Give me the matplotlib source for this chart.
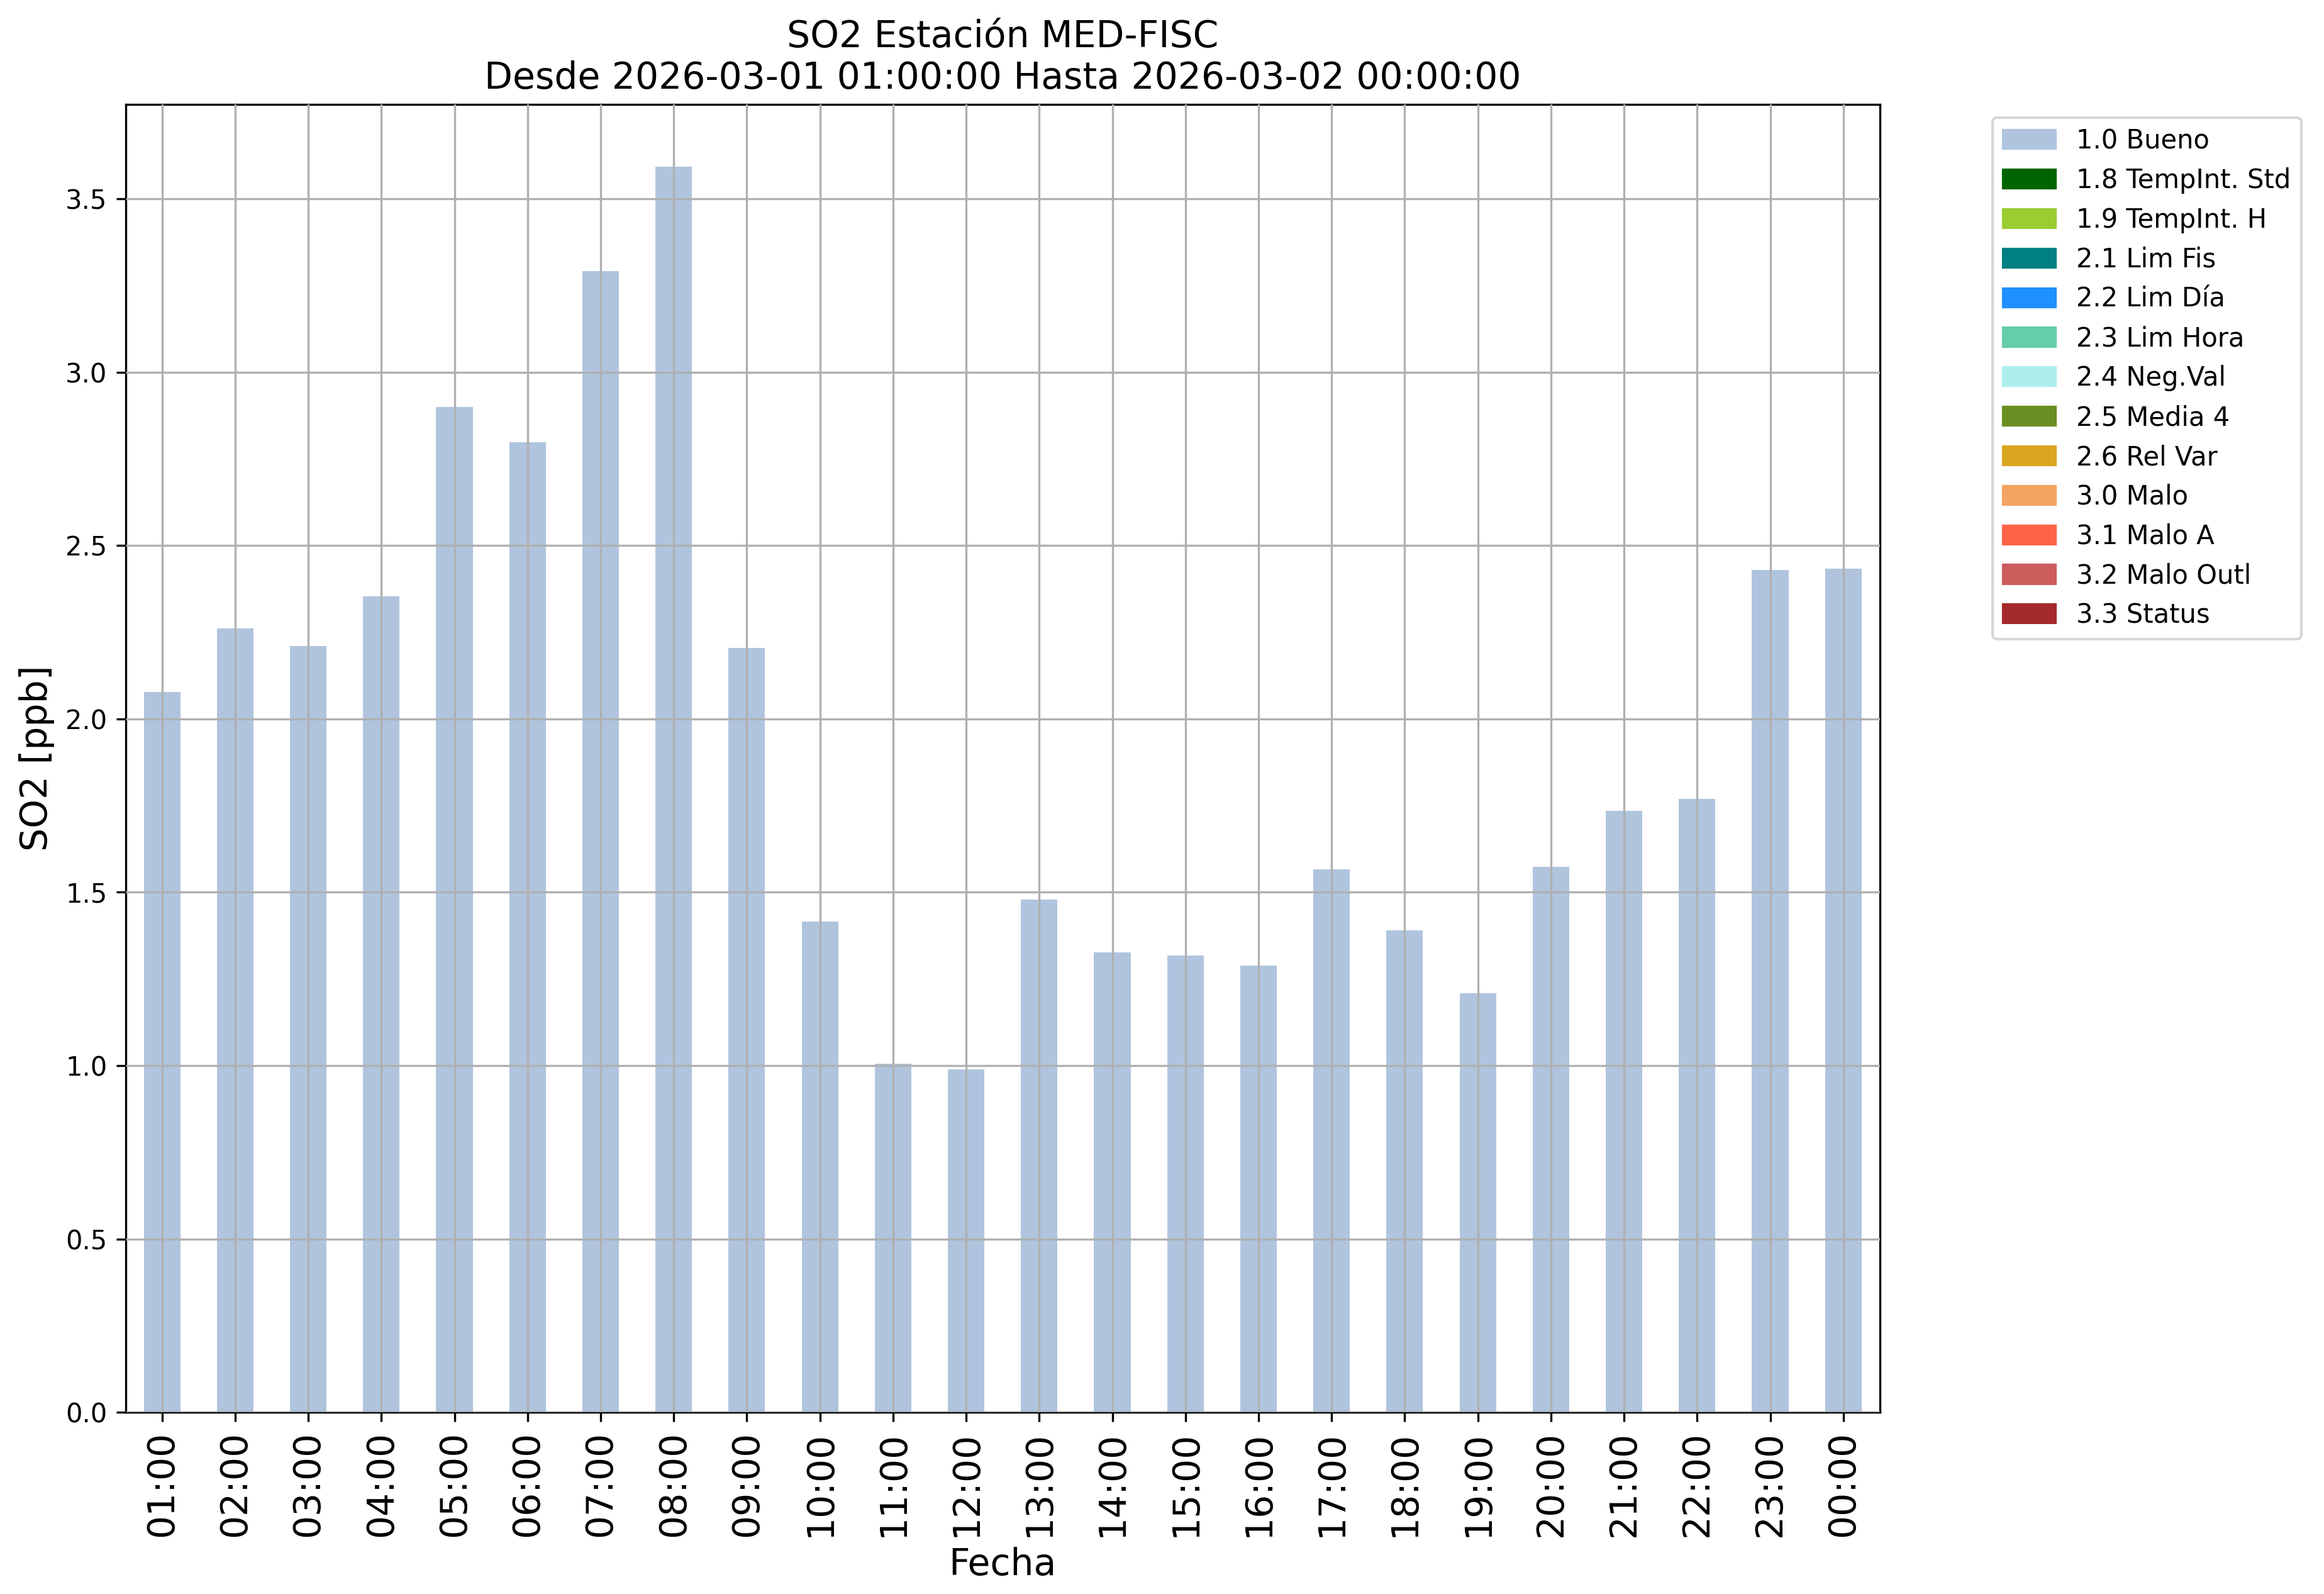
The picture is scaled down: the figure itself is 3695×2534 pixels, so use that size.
import matplotlib
matplotlib.use('Agg')
import matplotlib.pyplot as plt
import matplotlib.patches as mpatches

# hourly SO2 values (all flagged 1.0 Bueno)
horas = ['01:00', '02:00', '03:00', '04:00', '05:00', '06:00', '07:00', '08:00',
         '09:00', '10:00', '11:00', '12:00', '13:00', '14:00', '15:00', '16:00',
         '17:00', '18:00', '19:00', '20:00', '21:00', '22:00', '23:00', '00:00']
so2 = [2.078, 2.261, 2.210, 2.353, 2.900, 2.798, 3.291, 3.593,
       2.205, 1.416, 1.006, 0.989, 1.479, 1.326, 1.318, 1.288,
       1.566, 1.391, 1.208, 1.573, 1.734, 1.770, 2.430, 2.434]

# quality flag legend
flags = ['1.0 Bueno', '1.8 TempInt. Std', '1.9 TempInt. H', '2.1 Lim Fis',
         '2.2 Lim Día', '2.3 Lim Hora', '2.4 Neg.Val', '2.5 Media 4',
         '2.6 Rel Var', '3.0 Malo', '3.1 Malo A', '3.2 Malo Outl', '3.3 Status']
flag_colors = ['lightsteelblue', 'darkgreen', 'yellowgreen', 'teal',
               'dodgerblue', 'mediumaquamarine', 'paleturquoise', 'olivedrab',
               'goldenrod', 'sandybrown', 'tomato', 'indianred', 'brown']

fig, ax = plt.subplots(figsize=(3695 / 300, 2534 / 300), dpi=300)
fig.subplots_adjust(left=0.054, right=0.8089, bottom=0.114, top=0.9345)

x = range(len(horas))
ax.bar(x, so2, width=0.5, color=flag_colors[0])
ax.set_xlim(-0.5, len(horas) - 0.5)
ax.set_xticks(list(x))
ax.set_xticklabels(horas, rotation=90, fontsize=14)
ax.tick_params(axis='y', labelsize=10)
ax.grid(True)
ax.set_axisbelow(False)

ax.set_title('SO2 Estación MED-FISC\nDesde 2026-03-01 01:00:00 Hasta 2026-03-02 00:00:00',
             fontsize=14)
ax.set_xlabel('Fecha', fontsize=14)
ax.set_ylabel('SO2 [ppb]', fontsize=14)

handles = [mpatches.Patch(color=c, label=l) for l, c in zip(flags, flag_colors)]
ax.legend(handles=handles, bbox_to_anchor=(1.0567, 1), loc='upper left', fontsize=10)

fig.savefig('out.png', dpi=300)
